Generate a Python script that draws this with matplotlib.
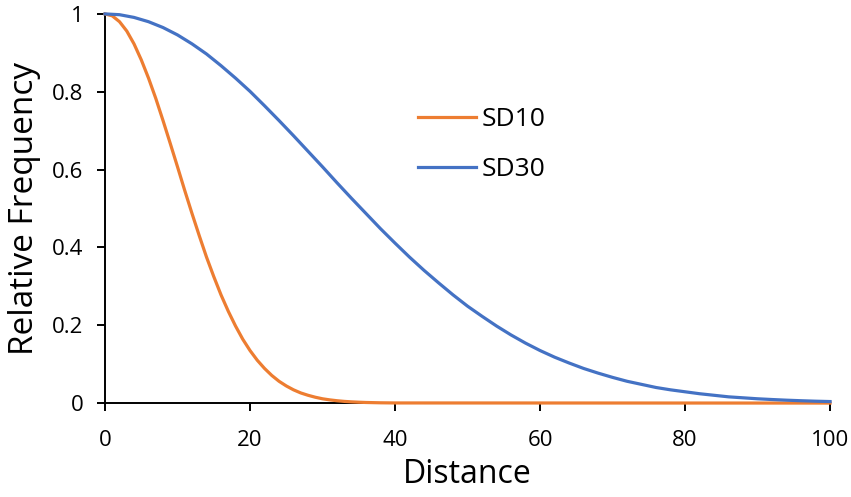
import matplotlib.pyplot as plt
from matplotlib.ticker import FuncFormatter

plt.rcParams['font.family'] = ['Open Sans', 'DejaVu Sans']

# SD10 series, read every 1 unit up to where it reaches zero
dist10 = list(range(0, 41)) + [100]
sd10 = [1.0, 0.995, 0.980, 0.956, 0.923, 0.882, 0.835, 0.783, 0.726, 0.667, 0.607,
        0.546, 0.487, 0.430, 0.375, 0.325, 0.278, 0.236, 0.198, 0.164, 0.135,
        0.110, 0.089, 0.071, 0.056, 0.044, 0.034, 0.026, 0.020, 0.015, 0.011,
        0.0082, 0.006, 0.0043, 0.0031, 0.0022, 0.0015, 0.0011, 0.0007, 0.0005, 0.0003,
        0.0]

# SD30 series, read every 2 units
dist30 = list(range(0, 101, 2))
sd30 = [1.0, 0.998, 0.991, 0.980, 0.965, 0.946, 0.923, 0.897, 0.867, 0.835, 0.801,
        0.764, 0.726, 0.687, 0.647, 0.607, 0.566, 0.526, 0.487, 0.448, 0.411,
        0.375, 0.341, 0.309, 0.278, 0.249, 0.223, 0.198, 0.175, 0.154, 0.135,
        0.118, 0.103, 0.089, 0.077, 0.066, 0.056, 0.048, 0.040, 0.034, 0.029,
        0.024, 0.020, 0.016, 0.0135, 0.011, 0.0091, 0.0074, 0.006, 0.0048, 0.0039]

fig = plt.figure(figsize=(8.51, 4.97), dpi=100)
ax = fig.add_axes([0.1234, 0.189, 0.852, 0.783])

ax.plot(dist10, sd10, color='#ED7D31', lw=2.3, label='SD10', clip_on=False, zorder=3)
ax.plot(dist30, sd30, color='#4472C4', lw=2.3, label='SD30', clip_on=False, zorder=4)

ax.set_xlim(0, 100)
ax.set_ylim(0, 1)
ax.set_xticks([0, 20, 40, 60, 80, 100])
ax.set_yticks([0, 0.2, 0.4, 0.6, 0.8, 1.0])
ax.yaxis.set_major_formatter(FuncFormatter(lambda v, p: '%g' % v))

for s in ['top', 'right']:
    ax.spines[s].set_visible(False)
for s in ['left', 'bottom']:
    ax.spines[s].set_linewidth(1.4)
ax.tick_params(direction='out', length=5.5, width=1.4, labelsize=16)
ax.tick_params(axis='x', pad=14)
ax.tick_params(axis='y', pad=10)

ax.set_xlabel('Distance', fontsize=23, labelpad=5)
ax.set_ylabel('Relative Frequency', fontsize=24, labelpad=8)

ax.legend(loc='upper left', bbox_to_anchor=(0.399, 0.821), frameon=False, fontsize=19,
          handlelength=2.2, handletextpad=0.2, labelspacing=0.95)

plt.savefig('out.png')
